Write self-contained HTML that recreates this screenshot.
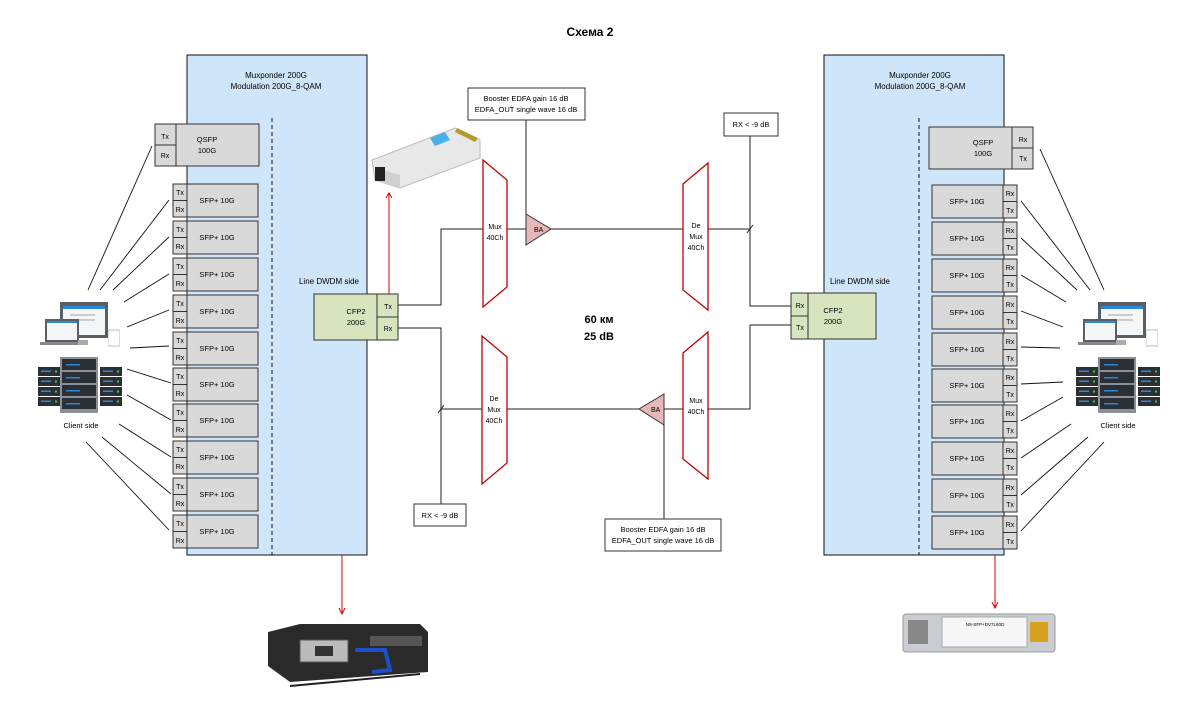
<!DOCTYPE html>
<html><head><meta charset="utf-8"><style>
html,body{margin:0;padding:0;background:#fff;}
svg{display:block;font-family:"Liberation Sans",sans-serif;}
</style></head><body>
<svg width="1200" height="703" viewBox="0 0 1200 703" xmlns="http://www.w3.org/2000/svg">
<defs>
<g id="laptop">
<rect x="0" y="0" width="48" height="36" fill="#5a5e66"/><rect x="3" y="4" width="42" height="29" fill="#f4f6f8"/><rect x="3" y="4" width="42" height="3" fill="#2b88d8"/>
<rect x="10" y="12" width="25" height="2" fill="#ccc"/><rect x="10" y="17" width="25" height="2" fill="#ccc"/>
<rect x="-15" y="17" width="34" height="23" fill="#5a5e66"/><rect x="-13" y="19" width="30" height="19" fill="#f4f6f8"/><rect x="-13" y="19" width="30" height="2" fill="#2b88d8"/>
<rect x="-20" y="40" width="43" height="3" fill="#888"/>
<rect x="48" y="27" width="12" height="18" fill="#ddd"/><rect x="49" y="29" width="10" height="14" fill="#fff"/>
<rect x="18" y="38" width="10" height="5" fill="#aaa"/>
</g>
<g id="srv">
<rect x="0" y="0" width="22" height="9" fill="#2c2f33"/><rect x="3" y="3.5" width="10" height="1.5" fill="#2b88d8"/><rect x="17" y="3.5" width="2" height="2" fill="#3c3"/>
</g>
<g id="servers">
<use href="#srv" x="0" y="10"/><use href="#srv" x="0" y="20"/><use href="#srv" x="0" y="30"/><use href="#srv" x="0" y="40"/>
<rect x="22" y="0" width="38" height="56" fill="#8a9099"/>
<rect x="24" y="2" width="34" height="11" fill="#2c2f33"/><rect x="24" y="15" width="34" height="11" fill="#2c2f33"/><rect x="24" y="28" width="34" height="11" fill="#2c2f33"/><rect x="24" y="41" width="34" height="11" fill="#2c2f33"/>
<rect x="28" y="7" width="14" height="1.5" fill="#2b88d8"/><rect x="28" y="20" width="14" height="1.5" fill="#2b88d8"/><rect x="28" y="33" width="14" height="1.5" fill="#2b88d8"/><rect x="28" y="46" width="14" height="1.5" fill="#2b88d8"/>
<use href="#srv" x="62" y="10"/><use href="#srv" x="62" y="20"/><use href="#srv" x="62" y="30"/><use href="#srv" x="62" y="40"/>
</g>
</defs>

<text x="590" y="36" font-size="12" font-weight="bold" text-anchor="middle">Схема 2</text>

<!-- Left chassis -->
<rect x="187" y="55" width="180" height="500" fill="#cfe5f9" stroke="#111" stroke-width="1"/>
<text x="276" y="78" font-size="8" text-anchor="middle">Muxponder 200G</text>
<text x="276" y="89" font-size="8" text-anchor="middle">Modulation 200G_8-QAM</text>
<line x1="272" y1="118" x2="272" y2="555" stroke="#111" stroke-dasharray="4,3"/>
<text x="329" y="284" font-size="8" text-anchor="middle">Line DWDM side</text>
<rect x="155" y="124" width="104" height="42" fill="#d9d9d9" stroke="#333"/>
<line x1="176" y1="124" x2="176" y2="166" stroke="#333"/><line x1="155" y1="145" x2="176" y2="145" stroke="#333"/>
<text x="165" y="139" font-size="7" text-anchor="middle">Tx</text><text x="165" y="158" font-size="7" text-anchor="middle">Rx</text>
<text x="207" y="142" font-size="7.5" text-anchor="middle">QSFP</text><text x="207" y="153" font-size="7.5" text-anchor="middle">100G</text>
<g font-size="7.5" text-anchor="middle">
<g transform="translate(0,184)"><rect x="173" y="0" width="85" height="33" fill="#d9d9d9" stroke="#333"/><rect x="173" y="0" width="14" height="33" fill="#d9d9d9" stroke="#333"/><line x1="173" y1="16.5" x2="187" y2="16.5" stroke="#333"/><text x="180" y="11" font-size="7">Tx</text><text x="180" y="28" font-size="7">Rx</text><text x="217" y="19">SFP+ 10G</text></g>
<g transform="translate(0,221)"><rect x="173" y="0" width="85" height="33" fill="#d9d9d9" stroke="#333"/><rect x="173" y="0" width="14" height="33" fill="#d9d9d9" stroke="#333"/><line x1="173" y1="16.5" x2="187" y2="16.5" stroke="#333"/><text x="180" y="11" font-size="7">Tx</text><text x="180" y="28" font-size="7">Rx</text><text x="217" y="19">SFP+ 10G</text></g>
<g transform="translate(0,258)"><rect x="173" y="0" width="85" height="33" fill="#d9d9d9" stroke="#333"/><rect x="173" y="0" width="14" height="33" fill="#d9d9d9" stroke="#333"/><line x1="173" y1="16.5" x2="187" y2="16.5" stroke="#333"/><text x="180" y="11" font-size="7">Tx</text><text x="180" y="28" font-size="7">Rx</text><text x="217" y="19">SFP+ 10G</text></g>
<g transform="translate(0,295)"><rect x="173" y="0" width="85" height="33" fill="#d9d9d9" stroke="#333"/><rect x="173" y="0" width="14" height="33" fill="#d9d9d9" stroke="#333"/><line x1="173" y1="16.5" x2="187" y2="16.5" stroke="#333"/><text x="180" y="11" font-size="7">Tx</text><text x="180" y="28" font-size="7">Rx</text><text x="217" y="19">SFP+ 10G</text></g>
<g transform="translate(0,332)"><rect x="173" y="0" width="85" height="33" fill="#d9d9d9" stroke="#333"/><rect x="173" y="0" width="14" height="33" fill="#d9d9d9" stroke="#333"/><line x1="173" y1="16.5" x2="187" y2="16.5" stroke="#333"/><text x="180" y="11" font-size="7">Tx</text><text x="180" y="28" font-size="7">Rx</text><text x="217" y="19">SFP+ 10G</text></g>
<g transform="translate(0,368)"><rect x="173" y="0" width="85" height="33" fill="#d9d9d9" stroke="#333"/><rect x="173" y="0" width="14" height="33" fill="#d9d9d9" stroke="#333"/><line x1="173" y1="16.5" x2="187" y2="16.5" stroke="#333"/><text x="180" y="11" font-size="7">Tx</text><text x="180" y="28" font-size="7">Rx</text><text x="217" y="19">SFP+ 10G</text></g>
<g transform="translate(0,404)"><rect x="173" y="0" width="85" height="33" fill="#d9d9d9" stroke="#333"/><rect x="173" y="0" width="14" height="33" fill="#d9d9d9" stroke="#333"/><line x1="173" y1="16.5" x2="187" y2="16.5" stroke="#333"/><text x="180" y="11" font-size="7">Tx</text><text x="180" y="28" font-size="7">Rx</text><text x="217" y="19">SFP+ 10G</text></g>
<g transform="translate(0,441)"><rect x="173" y="0" width="85" height="33" fill="#d9d9d9" stroke="#333"/><rect x="173" y="0" width="14" height="33" fill="#d9d9d9" stroke="#333"/><line x1="173" y1="16.5" x2="187" y2="16.5" stroke="#333"/><text x="180" y="11" font-size="7">Tx</text><text x="180" y="28" font-size="7">Rx</text><text x="217" y="19">SFP+ 10G</text></g>
<g transform="translate(0,478)"><rect x="173" y="0" width="85" height="33" fill="#d9d9d9" stroke="#333"/><rect x="173" y="0" width="14" height="33" fill="#d9d9d9" stroke="#333"/><line x1="173" y1="16.5" x2="187" y2="16.5" stroke="#333"/><text x="180" y="11" font-size="7">Tx</text><text x="180" y="28" font-size="7">Rx</text><text x="217" y="19">SFP+ 10G</text></g>
<g transform="translate(0,515)"><rect x="173" y="0" width="85" height="33" fill="#d9d9d9" stroke="#333"/><rect x="173" y="0" width="14" height="33" fill="#d9d9d9" stroke="#333"/><line x1="173" y1="16.5" x2="187" y2="16.5" stroke="#333"/><text x="180" y="11" font-size="7">Tx</text><text x="180" y="28" font-size="7">Rx</text><text x="217" y="19">SFP+ 10G</text></g>
</g>
<!-- Left CFP2 -->
<rect x="314" y="294" width="84" height="46" fill="#d7e4bd" stroke="#333"/>
<line x1="377" y1="294" x2="377" y2="340" stroke="#333"/><line x1="377" y1="317" x2="398" y2="317" stroke="#333"/>
<text x="356" y="314" font-size="7.5" text-anchor="middle">CFP2</text><text x="356" y="325" font-size="7.5" text-anchor="middle">200G</text>
<text x="388" y="309" font-size="7" text-anchor="middle">Tx</text><text x="388" y="331" font-size="7" text-anchor="middle">Rx</text>

<!-- Right chassis -->
<rect x="824" y="55" width="180" height="500" fill="#cfe5f9" stroke="#111"/>
<text x="920" y="78" font-size="8" text-anchor="middle">Muxponder 200G</text>
<text x="920" y="89" font-size="8" text-anchor="middle">Modulation 200G_8-QAM</text>
<line x1="919" y1="118" x2="919" y2="555" stroke="#111" stroke-dasharray="4,3"/>
<text x="860" y="284" font-size="8" text-anchor="middle">Line DWDM side</text>
<rect x="929" y="127" width="104" height="42" fill="#d9d9d9" stroke="#333"/>
<line x1="1012" y1="127" x2="1012" y2="169" stroke="#333"/><line x1="1012" y1="148" x2="1033" y2="148" stroke="#333"/>
<text x="1023" y="142" font-size="7" text-anchor="middle">Rx</text><text x="1023" y="161" font-size="7" text-anchor="middle">Tx</text>
<text x="983" y="145" font-size="7.5" text-anchor="middle">QSFP</text><text x="983" y="156" font-size="7.5" text-anchor="middle">100G</text>
<g font-size="7.5" text-anchor="middle">
<g transform="translate(0,185)"><rect x="932" y="0" width="85" height="33" fill="#d9d9d9" stroke="#333"/><rect x="1003" y="0" width="14" height="33" fill="#d9d9d9" stroke="#333"/><line x1="1003" y1="16.5" x2="1017" y2="16.5" stroke="#333"/><text x="1010" y="11" font-size="7">Rx</text><text x="1010" y="28" font-size="7">Tx</text><text x="967" y="19">SFP+ 10G</text></g>
<g transform="translate(0,222)"><rect x="932" y="0" width="85" height="33" fill="#d9d9d9" stroke="#333"/><rect x="1003" y="0" width="14" height="33" fill="#d9d9d9" stroke="#333"/><line x1="1003" y1="16.5" x2="1017" y2="16.5" stroke="#333"/><text x="1010" y="11" font-size="7">Rx</text><text x="1010" y="28" font-size="7">Tx</text><text x="967" y="19">SFP+ 10G</text></g>
<g transform="translate(0,259)"><rect x="932" y="0" width="85" height="33" fill="#d9d9d9" stroke="#333"/><rect x="1003" y="0" width="14" height="33" fill="#d9d9d9" stroke="#333"/><line x1="1003" y1="16.5" x2="1017" y2="16.5" stroke="#333"/><text x="1010" y="11" font-size="7">Rx</text><text x="1010" y="28" font-size="7">Tx</text><text x="967" y="19">SFP+ 10G</text></g>
<g transform="translate(0,296)"><rect x="932" y="0" width="85" height="33" fill="#d9d9d9" stroke="#333"/><rect x="1003" y="0" width="14" height="33" fill="#d9d9d9" stroke="#333"/><line x1="1003" y1="16.5" x2="1017" y2="16.5" stroke="#333"/><text x="1010" y="11" font-size="7">Rx</text><text x="1010" y="28" font-size="7">Tx</text><text x="967" y="19">SFP+ 10G</text></g>
<g transform="translate(0,333)"><rect x="932" y="0" width="85" height="33" fill="#d9d9d9" stroke="#333"/><rect x="1003" y="0" width="14" height="33" fill="#d9d9d9" stroke="#333"/><line x1="1003" y1="16.5" x2="1017" y2="16.5" stroke="#333"/><text x="1010" y="11" font-size="7">Rx</text><text x="1010" y="28" font-size="7">Tx</text><text x="967" y="19">SFP+ 10G</text></g>
<g transform="translate(0,369)"><rect x="932" y="0" width="85" height="33" fill="#d9d9d9" stroke="#333"/><rect x="1003" y="0" width="14" height="33" fill="#d9d9d9" stroke="#333"/><line x1="1003" y1="16.5" x2="1017" y2="16.5" stroke="#333"/><text x="1010" y="11" font-size="7">Rx</text><text x="1010" y="28" font-size="7">Tx</text><text x="967" y="19">SFP+ 10G</text></g>
<g transform="translate(0,405)"><rect x="932" y="0" width="85" height="33" fill="#d9d9d9" stroke="#333"/><rect x="1003" y="0" width="14" height="33" fill="#d9d9d9" stroke="#333"/><line x1="1003" y1="16.5" x2="1017" y2="16.5" stroke="#333"/><text x="1010" y="11" font-size="7">Rx</text><text x="1010" y="28" font-size="7">Tx</text><text x="967" y="19">SFP+ 10G</text></g>
<g transform="translate(0,442)"><rect x="932" y="0" width="85" height="33" fill="#d9d9d9" stroke="#333"/><rect x="1003" y="0" width="14" height="33" fill="#d9d9d9" stroke="#333"/><line x1="1003" y1="16.5" x2="1017" y2="16.5" stroke="#333"/><text x="1010" y="11" font-size="7">Rx</text><text x="1010" y="28" font-size="7">Tx</text><text x="967" y="19">SFP+ 10G</text></g>
<g transform="translate(0,479)"><rect x="932" y="0" width="85" height="33" fill="#d9d9d9" stroke="#333"/><rect x="1003" y="0" width="14" height="33" fill="#d9d9d9" stroke="#333"/><line x1="1003" y1="16.5" x2="1017" y2="16.5" stroke="#333"/><text x="1010" y="11" font-size="7">Rx</text><text x="1010" y="28" font-size="7">Tx</text><text x="967" y="19">SFP+ 10G</text></g>
<g transform="translate(0,516)"><rect x="932" y="0" width="85" height="33" fill="#d9d9d9" stroke="#333"/><rect x="1003" y="0" width="14" height="33" fill="#d9d9d9" stroke="#333"/><line x1="1003" y1="16.5" x2="1017" y2="16.5" stroke="#333"/><text x="1010" y="11" font-size="7">Rx</text><text x="1010" y="28" font-size="7">Tx</text><text x="967" y="19">SFP+ 10G</text></g>
</g>
<!-- Right CFP2 -->
<rect x="791" y="293" width="85" height="46" fill="#d7e4bd" stroke="#333"/>
<line x1="808" y1="293" x2="808" y2="339" stroke="#333"/><line x1="791" y1="316" x2="808" y2="316" stroke="#333"/>
<text x="833" y="313" font-size="7.5" text-anchor="middle">CFP2</text><text x="833" y="324" font-size="7.5" text-anchor="middle">200G</text>
<text x="800" y="308" font-size="7" text-anchor="middle">Rx</text><text x="800" y="330" font-size="7" text-anchor="middle">Tx</text>

<!-- Connectors -->
<g stroke="#222" fill="none" stroke-width="1">
<polyline points="398,305 441,305 441,229 750,229 750,306 791,306"/>
<polyline points="398,328 441,328 441,409 750,409 750,325 791,325"/>
<line x1="526" y1="120" x2="526" y2="229"/>
<line x1="750" y1="136" x2="750" y2="229"/>
<line x1="441" y1="409" x2="441" y2="505"/>
<line x1="664" y1="409" x2="664" y2="519"/>
<line x1="747" y1="233" x2="753" y2="225"/>
<line x1="438" y1="413" x2="444" y2="405"/>
</g>
<!-- Mux/Demux -->
<g fill="#fff" stroke="#c00000" stroke-width="1.3">
<polygon points="483,160 507,180 507,287 483,307"/>
<polygon points="683,184 708,163 708,310 683,290"/>
<polygon points="482,336 507,357 507,463 482,484"/>
<polygon points="683,353 708,332 708,479 683,459"/>
</g>
<g font-size="7" text-anchor="middle">
<text x="495" y="229">Mux</text><text x="495" y="240">40Ch</text>
<text x="696" y="228">De</text><text x="696" y="239">Mux</text><text x="696" y="250">40Ch</text>
<text x="494" y="401">De</text><text x="494" y="412">Mux</text><text x="494" y="423">40Ch</text>
<text x="696" y="403">Mux</text><text x="696" y="414">40Ch</text>
</g>
<polygon points="526,214 551,229 526,245" fill="#e6b8b7" stroke="#333"/>
<text x="534" y="232" font-size="7">BA</text>
<polygon points="664,394 639,409 664,425" fill="#e6b8b7" stroke="#333"/>
<text x="651" y="412" font-size="7">BA</text>
<!-- Boxes -->
<rect x="468" y="88" width="117" height="32" fill="#fff" stroke="#333"/>
<text x="526" y="101" font-size="7.5" text-anchor="middle">Booster EDFA gain 16 dB</text>
<text x="526" y="112" font-size="7.5" text-anchor="middle">EDFA_OUT single wave 16 dB</text>
<rect x="724" y="113" width="54" height="23" fill="#fff" stroke="#333"/>
<text x="751" y="127" font-size="7.5" text-anchor="middle">RX &lt; -9 dB</text>
<rect x="414" y="504" width="52" height="22" fill="#fff" stroke="#333"/>
<text x="440" y="518" font-size="7.5" text-anchor="middle">RX &lt; -9 dB</text>
<rect x="605" y="519" width="116" height="32" fill="#fff" stroke="#333"/>
<text x="663" y="532" font-size="7.5" text-anchor="middle">Booster EDFA gain 16 dB</text>
<text x="663" y="543" font-size="7.5" text-anchor="middle">EDFA_OUT single wave 16 dB</text>
<text x="599" y="323" font-size="11" font-weight="bold" text-anchor="middle">60 км</text>
<text x="599" y="340" font-size="11" font-weight="bold" text-anchor="middle">25 dB</text>

<!-- Red arrows -->
<g stroke="#d00" fill="none">
<line x1="389" y1="294" x2="389" y2="193"/><polyline points="386,198 389,193 392,198"/>
<line x1="342" y1="555" x2="342" y2="614"/><polyline points="339,608 342,614 345,608"/>
<line x1="995" y1="555" x2="995" y2="608"/><polyline points="992,602 995,608 998,602"/>
</g>

<!-- Client lines left -->
<g stroke="#111" stroke-width="0.9">
<line x1="152" y1="146" x2="88" y2="290"/>
<line x1="169" y1="200" x2="100" y2="290"/>
<line x1="169" y1="237" x2="113" y2="290"/>
<line x1="169" y1="274" x2="124" y2="302"/>
<line x1="169" y1="310" x2="127" y2="327"/>
<line x1="169" y1="346" x2="130" y2="348"/>
<line x1="171" y1="383" x2="127" y2="369"/>
<line x1="171" y1="420" x2="127" y2="395"/>
<line x1="171" y1="457" x2="119" y2="424"/>
<line x1="171" y1="494" x2="102" y2="437"/>
<line x1="169" y1="530" x2="86" y2="442"/>
</g>
<!-- Client lines right -->
<g stroke="#111" stroke-width="0.9">
<line x1="1040" y1="149" x2="1104" y2="290"/>
<line x1="1021" y1="201" x2="1090" y2="290"/>
<line x1="1021" y1="238" x2="1077" y2="290"/>
<line x1="1021" y1="275" x2="1066" y2="302"/>
<line x1="1021" y1="311" x2="1063" y2="327"/>
<line x1="1021" y1="347" x2="1060" y2="348"/>
<line x1="1021" y1="384" x2="1063" y2="382"/>
<line x1="1021" y1="421" x2="1063" y2="397"/>
<line x1="1021" y1="458" x2="1071" y2="424"/>
<line x1="1021" y1="495" x2="1088" y2="437"/>
<line x1="1021" y1="531" x2="1104" y2="442"/>
</g>
<!-- Client icons -->
<use href="#laptop" x="60" y="302"/>
<use href="#servers" x="38" y="357"/>
<text x="81" y="428" font-size="7.5" text-anchor="middle">Client side</text>
<use href="#laptop" x="1098" y="302"/>
<use href="#servers" x="1076" y="357"/>
<text x="1118" y="428" font-size="7.5" text-anchor="middle">Client side</text>

<!-- CFP2 module picture -->
<g>
<polygon points="372,160 455,128 480,140 480,158 400,188 375,180" fill="#e8e8e8" stroke="#bbb"/>
<polygon points="375,180 400,188 400,175 375,168" fill="#d0d0d0"/>
<rect x="375" y="167" width="10" height="14" fill="#222"/>
<polygon points="430,138 445,132 450,140 435,146" fill="#49b0e8"/>
<polygon points="457,128 478,138 475,142 455,132" fill="#b59a30"/>
</g>
<!-- Line card picture -->
<g>
<polygon points="268,632 300,624 420,624 428,632 428,672 290,682 268,666" fill="#2a2a2a"/>
<rect x="300" y="640" width="48" height="22" fill="#bbb" stroke="#555"/>
<rect x="315" y="646" width="18" height="10" fill="#333"/>
<path d="M355,650 L385,650 L390,670 L372,672" fill="none" stroke="#1f4fc8" stroke-width="4"/>
<line x1="290" y1="686" x2="420" y2="674" stroke="#222" stroke-width="2"/>
<rect x="370" y="636" width="52" height="10" fill="#555"/>
</g>
<!-- SFP picture -->
<g>
<rect x="903" y="614" width="152" height="38" rx="3" fill="#c9ccd0" stroke="#999"/>
<rect x="908" y="620" width="20" height="24" fill="#888"/>
<rect x="942" y="617" width="85" height="30" fill="#f6f6f6" stroke="#aaa"/>
<rect x="1030" y="622" width="18" height="20" fill="#d6a11d"/>
<text x="985" y="626" font-size="4.5" text-anchor="middle">NS-SFP+DV7L60D</text>
</g>
</svg>
</body></html>
